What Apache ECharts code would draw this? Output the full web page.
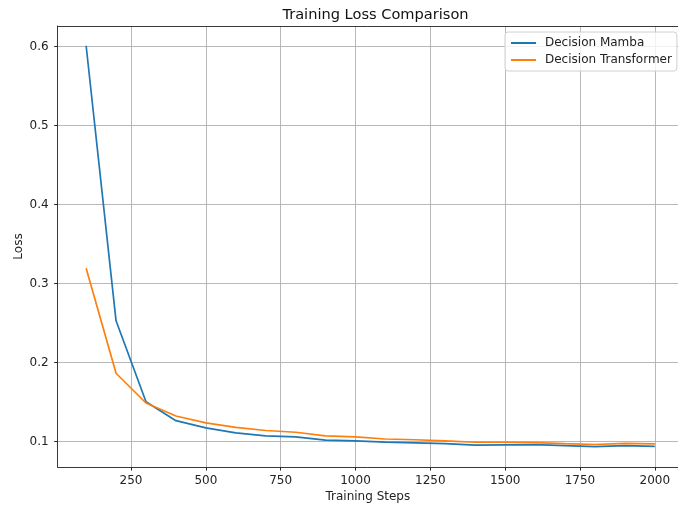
<!DOCTYPE html>
<html>
<head>
<meta charset="utf-8">
<script src="https://cdn.jsdelivr.net/npm/echarts@6/dist/echarts.min.js"></script>
<style>
html,body{margin:0;padding:0;background:#fff;}
#c{width:678px;height:508px;}
</style>
</head>
<body>
<div id="c"></div>
<script>
const steps = [100,200,300,400,500,600,700,800,900,1000,1100,1200,1300,1400,1500,1600,1700,1800,1900,2000];
const mamba = [0.601,0.253,0.1506,0.1266,0.1176,0.1112,0.1074,0.1062,0.1019,0.101,0.0995,0.0985,0.0975,0.0958,0.096,0.0962,0.095,0.0937,0.095,0.0942];
const transformer = [0.3195,0.1866,0.149,0.1325,0.1238,0.1181,0.1142,0.112,0.1073,0.106,0.1034,0.1025,0.101,0.0993,0.0993,0.0988,0.0975,0.0965,0.098,0.0972];
const xTicks = [250,500,750,1000,1250,1500,1750,2000];
const yTicks = [0.1,0.2,0.3,0.4,0.5,0.6];
const seriesNames = ['Decision Mamba','Decision Transformer'];
const colors = ['#1f77b4','#ff7f0e'];

const font = 'DejaVu Sans';
const xMin = 5, xMax = 2077.5;
const chart = echarts.init(document.getElementById('c'), null, {renderer:'canvas'});
chart.setOption({
  animation:false,
  backgroundColor:'#fff',
  title:{text:'Training Loss Comparison', left:370.5, textAlign:'center', top:3,
    textStyle:{fontFamily:font, fontSize:14.6, fontWeight:'normal', color:'#111'}},
  legend:{orient:'vertical', left:505, top:32, padding:[5,5,5,6], itemGap:5,
    itemWidth:25, itemHeight:2, icon:'rect',
    backgroundColor:'rgba(255,255,255,0.8)', borderColor:'#d0d0d0', borderWidth:1, borderRadius:3,
    textStyle:{fontFamily:font, fontSize:12, color:'#222', padding:[0,0,0,4]},
    data:seriesNames},
  grid:{left:57.7, right:0, top:26, bottom:40, show:false},
  xAxis:[{type:'value', min:xMin, max:xMax,
    name:'Training Steps', nameLocation:'middle', nameGap:24, nameMoveOverlap:false,
    nameTextStyle:{fontFamily:font, fontSize:12, color:'#222'},
    axisLine:{show:true, onZero:false, lineStyle:{color:'#222', width:0.9}},
    axisTick:{show:true, length:3.5, customValues:xTicks, lineStyle:{color:'#222'}},
    axisLabel:{customValues:xTicks, margin:8, fontFamily:font, fontSize:12, color:'#222',
      formatter:v=>String(v)},
    splitLine:{show:true, lineStyle:{color:'#b0b0b0', width:0.9}}},
   {type:'value', position:'top', min:xMin, max:xMax,
    axisLine:{show:true, onZero:false, lineStyle:{color:'#222', width:0.9}},
    axisTick:{show:false}, axisLabel:{show:false}, splitLine:{show:false}}],
  yAxis:{type:'value', min:0.068, max:0.626,
    name:'Loss', nameLocation:'middle', nameGap:33, nameMoveOverlap:false,
    nameTextStyle:{fontFamily:font, fontSize:12, color:'#222'},
    axisLine:{show:true, onZero:false, lineStyle:{color:'#222', width:0.9}},
    axisTick:{show:true, length:3.5, customValues:yTicks, lineStyle:{color:'#222'}},
    axisLabel:{customValues:yTicks, margin:9, fontFamily:font, fontSize:12, color:'#222',
      formatter:v=>v.toFixed(1)},
    splitLine:{show:true, lineStyle:{color:'#b0b0b0', width:0.9}}},
  series:[
    {name:seriesNames[0], type:'line', symbol:'none', data:steps.map((s,i)=>[s,mamba[i]]),
      lineStyle:{color:colors[0], width:1.7}, itemStyle:{color:colors[0]}},
    {name:seriesNames[1], type:'line', symbol:'none', data:steps.map((s,i)=>[s,transformer[i]]),
      lineStyle:{color:colors[1], width:1.7}, itemStyle:{color:colors[1]}}
  ]
});
</script>
</body>
</html>
